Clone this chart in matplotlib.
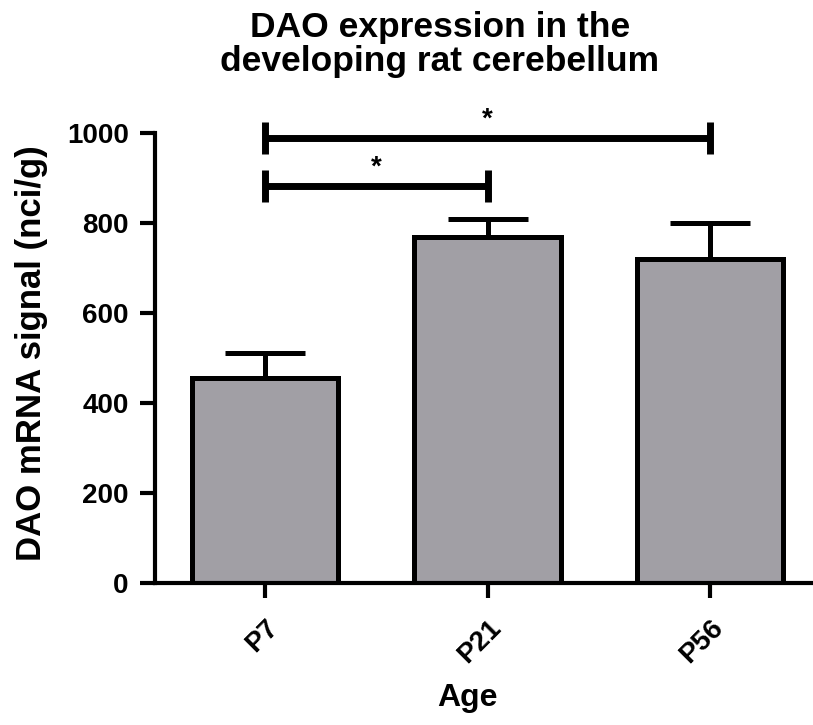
import numpy as np
import matplotlib
matplotlib.use('Agg')
import matplotlib.pyplot as plt

# data
ages = ['P7', 'P21', 'P56']
means = [456, 769, 720]
sem = [55, 40, 80]
# significance brackets: (left bar, right bar, height)
sig_pairs = [(0, 1, 882), (0, 2, 989)]

plt.rcParams['font.family'] = ['Liberation Sans', 'DejaVu Sans']
plt.rcParams['font.weight'] = 'bold'

fig = plt.figure(figsize=(8.13, 7.25), dpi=100)
ax = fig.add_axes([0.1907, 0.1959, 0.8094, 0.6207])

x = np.arange(len(ages))
ax.bar(x, means, width=0.66, color='#a19fa5', edgecolor='black', linewidth=3.6, zorder=2)
ax.errorbar(x, means, yerr=[np.zeros(len(sem)), sem], fmt='none', ecolor='black',
            elinewidth=3.6, capsize=29, capthick=3.6, zorder=1)

# brackets with stars
for a, b, h in sig_pairs:
    ax.plot([a, b], [h, h], color='black', lw=5, clip_on=False, solid_capstyle='butt')
    for xx in (a, b):
        ax.plot([xx, xx], [h - 35, h + 35], color='black', lw=5, clip_on=False, solid_capstyle='butt')
    ax.text((a + b) / 2, h + 12, '*', ha='center', va='bottom', fontsize=20, fontweight='bold')

ax.set_xlim(-0.494, 2.463)
ax.set_ylim(0, 1000)
ax.set_yticks([0, 200, 400, 600, 800, 1000])
ax.set_xticks(x)
ax.set_xticklabels(ages, rotation=45, ha='right', rotation_mode='anchor')

for s in ['top', 'right']:
    ax.spines[s].set_visible(False)
ax.spines['left'].set_linewidth(3)
ax.spines['bottom'].set_linewidth(3)
ax.tick_params(axis='y', length=11, width=3, labelsize=20, pad=8)
ax.tick_params(axis='x', length=11, width=3, labelsize=20, pad=12)
for lab in ax.get_xticklabels() + ax.get_yticklabels():
    lab.set_fontweight('bold')

ax.set_ylabel('DAO mRNA signal (nci/g)', fontsize=25, fontweight='bold')
ax.yaxis.set_label_coords(-0.163, 0.51)
ax.set_xlabel('Age', fontsize=23, fontweight='bold')
ax.xaxis.set_label_coords(0.475, -0.222)
fig.text(0.541, 0.985, 'DAO expression in the\ndeveloping rat cerebellum', ha='center', va='top',
         fontsize=25.5, fontweight='bold', linespacing=1.06)

fig.savefig('out.png', dpi=100)
